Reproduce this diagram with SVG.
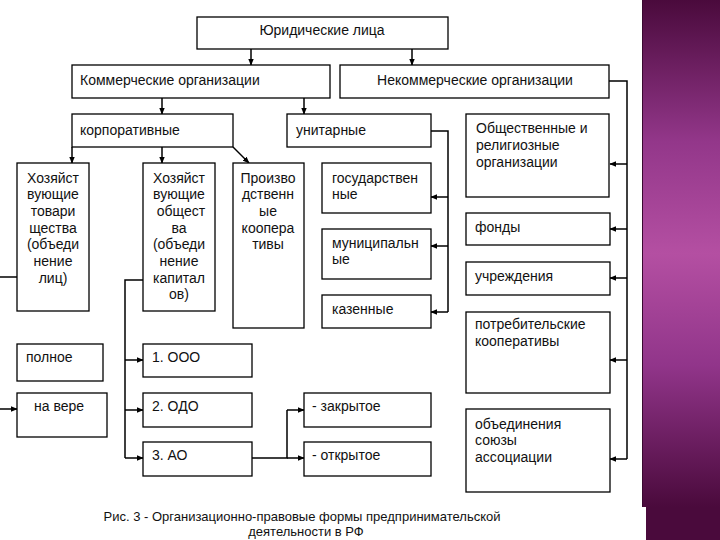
<svg xmlns="http://www.w3.org/2000/svg" width="720" height="540" viewBox="0 0 720 540">
<defs>
<linearGradient id="purple" x1="0" y1="0" x2="0" y2="1">
<stop offset="0" stop-color="#4a0a3c"/>
<stop offset="0.28" stop-color="#93378a"/>
<stop offset="0.5" stop-color="#b44fa2"/>
<stop offset="0.72" stop-color="#91358a"/>
<stop offset="1" stop-color="#4a0a3c"/>
</linearGradient>
<marker id="arr" viewBox="0 0 10 10" refX="9" refY="5" markerWidth="7" markerHeight="7" markerUnits="userSpaceOnUse" orient="auto">
<path d="M0,1 L10,5 L0,9 z" fill="#000"/>
</marker>
<style>
.b{fill:#fff;stroke:#000;stroke-width:1.3}
.t{font-family:"Liberation Sans",Arial,sans-serif;font-size:14px;fill:#111}
.cap{font-family:"Liberation Sans",Arial,sans-serif;font-size:13px;fill:#111;text-anchor:middle}
.c{text-anchor:middle}
.l{fill:none;stroke:#000;stroke-width:1.5}
.a{marker-end:url(#arr)}
</style>
</defs>
<rect x="0" y="0" width="720" height="540" fill="#fff"/>
<rect x="642" y="0" width="78" height="507" fill="url(#purple)"/>
<rect x="646" y="507" width="74" height="33" fill="#4a0a3c"/>
<line x1="642.5" y1="0" x2="642.5" y2="507" stroke="#3a0830" stroke-width="1"/>

<g id="connectors">
<path class="l a" d="M251,49 V65"/>
<path class="l a" d="M412,49 V65"/>
<path class="l a" d="M162,98 V114"/>
<path class="l a" d="M304,98 V114"/>
<path class="l a" d="M72,147 V163"/>
<path class="l a" d="M162,147 V163"/>
<path class="l a" d="M233,147 L249,163"/>
<path class="l" d="M431,131 H448 V312"/>
<path class="l a" d="M448,197 H431"/>
<path class="l a" d="M448,246 H431"/>
<path class="l a" d="M448,312 H431"/>
<path class="l" d="M609,81 H627 V459"/>
<path class="l a" d="M627,164 H610"/>
<path class="l a" d="M627,229 H610"/>
<path class="l a" d="M627,278 H610"/>
<path class="l a" d="M627,360 H610"/>
<path class="l a" d="M627,459 H610"/>
<path class="l" d="M17,277 H0"/>
<path class="l a" d="M0,409 H17"/>
<path class="l" d="M143,280 H125 V458"/>
<path class="l a" d="M125,360 H143"/>
<path class="l a" d="M125,410 H143"/>
<path class="l a" d="M125,458 H143"/>
<path class="l" d="M252,458 H287 V410"/>
<path class="l a" d="M287,410 H304"/>
<path class="l a" d="M287,458 H304"/>
</g>

<g id="n-legal"><rect class="b" x="197" y="17" width="251" height="32"/><text class="t c" x="322" y="35">Юридические лица</text></g>
<g id="n-comm"><rect class="b" x="72" y="65" width="258" height="33"/><text class="t" x="80" y="85">Коммерческие организации</text></g>
<g id="n-noncomm"><rect class="b" x="340" y="65" width="269" height="33"/><text class="t c" x="475" y="85">Некоммерческие организации</text></g>
<g id="n-corp"><rect class="b" x="72" y="114" width="161" height="33"/><text class="t" x="80" y="135">корпоративные</text></g>
<g id="n-unit"><rect class="b" x="287" y="114" width="144" height="33"/><text class="t" x="296" y="135">унитарные</text></g>
<g id="n-public"><rect class="b" x="466" y="114" width="143" height="83"/><text class="t" x="476" y="133">Общественные и</text><text class="t" x="476" y="150">религиозные</text><text class="t" x="476" y="167">организации</text></g>

<g id="n-partner"><rect class="b" x="17" y="163" width="72" height="148"/>
<text class="t c" x="53" y="183">Хозяйст</text><text class="t c" x="53" y="199">вующие</text><text class="t c" x="53" y="216">товари</text><text class="t c" x="53" y="233">щества</text><text class="t c" x="53" y="249">(объеди</text><text class="t c" x="53" y="266">нение</text><text class="t c" x="53" y="283">лиц)</text></g>
<g id="n-society"><rect class="b" x="143" y="163" width="72" height="148"/>
<text class="t c" x="179" y="183">Хозяйст</text><text class="t c" x="179" y="199">вующие</text><text class="t c" x="181" y="216">общест</text><text class="t c" x="179" y="233">ва</text><text class="t c" x="179" y="249">(объеди</text><text class="t c" x="179" y="266">нение</text><text class="t c" x="179" y="283">капитал</text><text class="t c" x="179" y="299">ов)</text></g>
<g id="n-coop"><rect class="b" x="233" y="163" width="71" height="165"/>
<text class="t c" x="268" y="183">Произво</text><text class="t c" x="268" y="199">дственн</text><text class="t c" x="268" y="216">ые</text><text class="t c" x="268" y="233">коопера</text><text class="t c" x="268" y="249">тивы</text></g>
<g id="n-state"><rect class="b" x="322" y="163" width="109" height="50"/><text class="t" x="332" y="183">государствен</text><text class="t" x="332" y="199">ные</text></g>
<g id="n-munic"><rect class="b" x="322" y="229" width="109" height="50"/><text class="t" x="332" y="248">муниципальн</text><text class="t" x="332" y="264">ые</text></g>
<g id="n-treasury"><rect class="b" x="322" y="295" width="109" height="33"/><text class="t" x="332" y="314">казенные</text></g>
<g id="n-funds"><rect class="b" x="466" y="213" width="144" height="32"/><text class="t" x="475" y="232">фонды</text></g>
<g id="n-inst"><rect class="b" x="466" y="262" width="144" height="33"/><text class="t" x="475" y="281">учреждения</text></g>
<g id="n-consumer"><rect class="b" x="466" y="312" width="144" height="81"/><text class="t" x="475" y="329">потребительские</text><text class="t" x="475" y="346">кооперативы</text></g>
<g id="n-assoc"><rect class="b" x="466" y="409" width="144" height="83"/><text class="t" x="475" y="429">объединения</text><text class="t" x="475" y="445">союзы</text><text class="t" x="475" y="462">ассоциации</text></g>

<g id="n-full"><rect class="b" x="17" y="344" width="86" height="37"/><text class="t" x="26" y="362">полное</text></g>
<g id="n-faith"><rect class="b" x="17" y="393" width="90" height="44"/><text class="t" x="34" y="411">на вере</text></g>
<g id="n-ooo"><rect class="b" x="143" y="344" width="109" height="33"/><text class="t" x="152" y="362">1. ООО</text></g>
<g id="n-odo"><rect class="b" x="143" y="393" width="109" height="34"/><text class="t" x="152" y="411">2. ОДО</text></g>
<g id="n-ao"><rect class="b" x="143" y="442" width="109" height="34"/><text class="t" x="152" y="460">3. АО</text></g>
<g id="n-closed"><rect class="b" x="304" y="393" width="127" height="34"/><text class="t" x="312" y="411">- закрытое</text></g>
<g id="n-open"><rect class="b" x="304" y="442" width="127" height="34"/><text class="t" x="312" y="460">- открытое</text></g>

<text class="cap" x="302" y="521">Рис. 3 - Организационно-правовые формы предпринимательской</text>
<text class="cap" x="306" y="536">деятельности в РФ</text>
</svg>
